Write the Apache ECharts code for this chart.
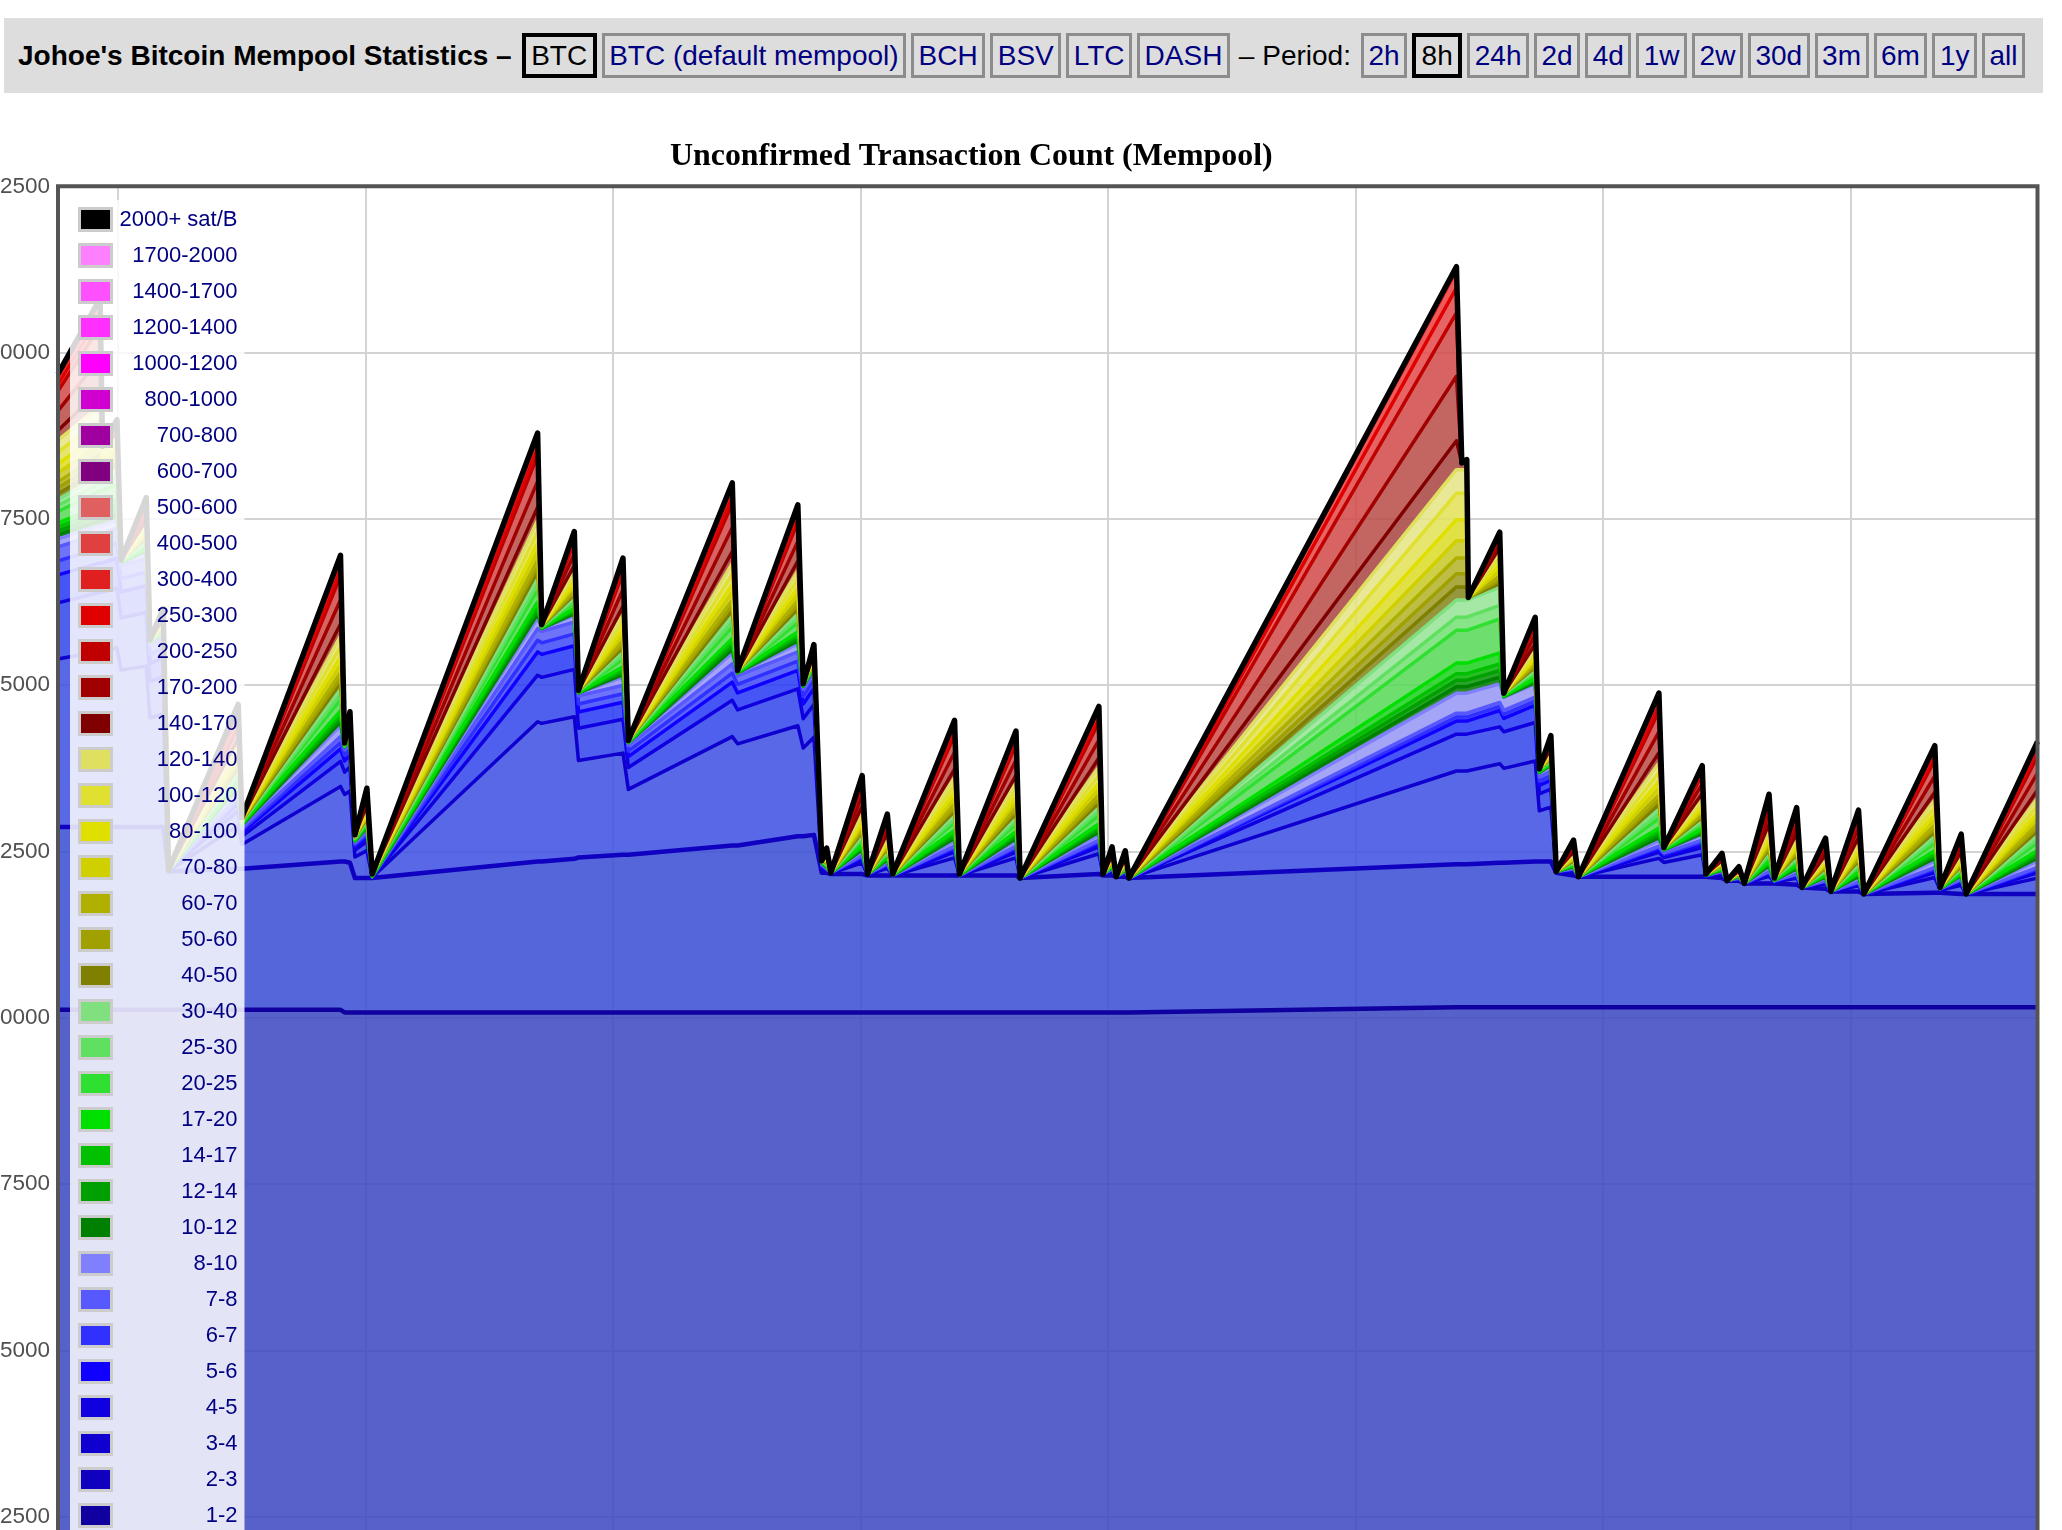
<!DOCTYPE html>
<html><head><meta charset="utf-8">
<script src="https://cdn.jsdelivr.net/npm/echarts/dist/echarts.min.js"></script>
<style>
html,body{margin:0;padding:0;background:#fff;overflow:hidden;width:2062px;height:1530px;}
#hdr{position:absolute;left:4px;top:18px;width:2039px;height:75px;background:#dddddd;display:flex;align-items:center;font-family:"Liberation Sans",Arial,sans-serif;font-size:28px;white-space:nowrap;}
#hdr .t{font-weight:bold;color:#000;margin-left:14px;margin-right:10px;}
#hdr .b{display:inline-block;box-sizing:content-box;height:39px;line-height:39px;border:3px solid #8c8c8c;padding:0 4.5px;color:#000080;margin-right:5px;}
#hdr .s{border:4px solid #000;height:37px;line-height:37px;padding:0 5.5px;color:#000;}
#hdr .p{margin:0 10px 0 4px;color:#000;}
#chart{position:absolute;left:-20px;top:0;width:2082px;height:1740px;}
</style></head>
<body>
<div id="hdr"><span class="t">Johoe's Bitcoin Mempool Statistics –</span><span class="b s">BTC</span><span class="b">BTC (default mempool)</span><span class="b">BCH</span><span class="b">BSV</span><span class="b">LTC</span><span class="b">DASH</span><span class="p">– Period:</span><span class="b">2h</span><span class="b s">8h</span><span class="b">24h</span><span class="b">2d</span><span class="b">4d</span><span class="b">1w</span><span class="b">2w</span><span class="b">30d</span><span class="b">3m</span><span class="b">6m</span><span class="b">1y</span><span class="b">all</span></div>
<div id="chart"></div>
<script>
// start of the 8h window (UTC) and sample times in minutes from start
const startTime = Date.UTC(2024, 0, 15, 12, 45, 24);
const windowMinutes = 480;
const minutes = [0,10.2,10.8,14.3,15.3,21.4,22.3,25.5,26.8,43.7,44.6,68.5,69.5,70.8,72.0,74.9,76.2,116.3,117.3,125.2,126.2,137.0,138.3,163.5,164.8,179.4,180.7,183.3,185.2,186.4,187.4,195.0,196.3,201.1,202.4,217.4,218.6,232.3,233.3,252.4,253.4,255.6,256.6,258.8,259.7,339.1,340.4,341.6,342.0,349.6,350.6,358.2,359.2,362.0,363.3,367.5,368.7,388.2,389.4,398.7,399.6,403.5,404.7,407.6,408.9,414.9,416.2,421.6,422.9,428.6,429.9,436.6,437.9,455.1,456.4,461.5,462.7,480.0];

const yTicks = [0,2500,5000,7500,10000,12500,15000,17500,20000,22500];

// transaction counts per fee level (sat/B), one value per sample time
const fee_1_2 = [10120,10120,10120,10120,10120,10120,10120,10120,10120,10120,10120,10120,
10080,10080,10080,10080,10080,10080,10080,10080,10080,10080,10080,
10080,10080,10080,10080,10080,10080,10080,10080,10080,10080,10080,
10080,10080,10080,10080,10080,10080,10080,10080,10080,10080,10080,
10160,10160,10160,10160,10160,10160,10160,10160,10160,10160,10160,
10160,10160,10160,10160,10160,10160,10160,10160,10160,10160,10160,
10160,10160,10160,10160,10160,10160,10160,10160,10160,10160,10160];
const fee_2_3 = [2750,2750,2750,2750,2750,2750,2750,2750,2080,2120,2120,2230,
2270,2250,2020,2020,2020,2270,2270,2310,2330,2370,2370,
2510,2510,2650,2650,2670,2100,2100,2080,2080,2060,2060,
2060,2060,2060,2060,2020,2080,2060,2060,2040,2040,2020,
2150,2150,2150,2150,2170,2170,2190,2190,2190,2020,1980,
1960,1960,1960,1960,1960,1940,1900,1900,1860,1860,1860,
1840,1800,1780,1740,1740,1700,1720,1720,1700,1700,1700];
const fee_3_4 = [2525,2645,2645,2693,2357,2417,1637,1697,12,653,365,1128,
1008,1080,317,413,12,2100,2076,2136,1457,1529,984,
1637,1529,1661,1325,1469,72,36,12,168,12,108,
0,264,0,264,0,306,12,60,0,48,0,
1400,1400,1400,1400,1490,1420,1510,762,816,12,60,
0,276,216,330,12,60,0,24,0,108,24,
96,0,72,0,84,0,228,36,132,0,240];
const fee_4_5 = [842,882,882,898,786,806,546,566,4,218,122,376,
336,360,106,138,4,700,692,712,486,510,328,
546,510,554,442,490,24,12,4,56,4,36,
0,88,0,88,0,102,4,20,0,16,0,
554,554,554,554,554,550,580,254,272,4,20,
0,92,72,110,4,20,0,8,0,36,8,
32,0,24,0,28,0,76,12,44,0,80];
const fee_5_6 = [421,441,441,449,393,403,273,283,2,109,61,188,
168,180,53,69,2,350,346,356,243,255,164,
273,255,277,221,245,12,6,2,28,2,18,
0,44,0,44,0,51,2,10,0,8,0,
197,197,197,197,246,200,260,127,136,2,10,
0,46,36,55,2,10,0,4,0,18,4,
16,0,12,0,14,0,38,6,22,0,40];
const fee_6_7 = [211,221,221,225,197,202,137,142,1,55,31,94,
84,90,27,35,1,175,173,178,122,128,82,
137,128,139,111,123,6,3,1,14,1,9,
0,22,0,22,0,26,1,5,0,4,0,
60,60,60,60,60,60,60,64,68,1,5,
0,23,18,28,1,5,0,2,0,9,2,
8,0,6,0,7,0,19,3,11,0,20];
const fee_7_8 = [211,221,221,225,197,202,137,142,1,55,31,94,
84,90,27,35,1,175,173,178,122,128,82,
137,128,139,111,123,6,3,1,14,1,9,
0,22,0,22,0,25,1,5,0,4,0,
59,59,59,59,60,60,60,63,68,1,5,
0,23,18,27,1,5,0,2,0,9,2,
8,0,6,0,7,0,19,3,11,0,20];
const fee_8_10 = [120,120,120,120,40,100,40,80,0,120,40,160,
40,60,20,60,0,160,40,100,40,120,40,
160,40,120,40,60,20,20,0,60,0,40,
0,80,0,80,0,80,0,20,0,20,0,
300,300,300,300,280,200,200,60,80,0,20,
0,80,40,80,0,20,0,20,0,60,0,
60,0,40,0,60,0,100,0,40,0,100];
const fee_10_12 = [59,75,75,78,4,18,4,8,0,27,7,56,
4,9,6,13,4,61,4,27,4,39,4,
56,4,46,4,8,4,6,0,25,0,16,
2,39,2,36,0,42,0,7,0,6,0,
98,98,98,98,100,6,22,6,10,0,9,
0,48,4,23,2,6,0,4,0,24,4,
20,0,13,0,23,0,38,2,14,0,39];
const fee_12_14 = [59,75,75,78,4,18,4,8,0,27,7,56,
4,9,6,13,4,61,4,27,4,39,4,
56,4,46,4,8,4,6,0,25,0,16,
2,39,2,36,0,42,0,7,0,6,0,
98,98,98,98,100,6,22,6,10,0,9,
0,48,4,23,2,6,0,4,0,24,4,
20,0,13,0,23,0,38,2,14,0,39];
const fee_14_17 = [59,75,75,78,4,18,4,8,0,27,7,56,
4,9,6,13,4,61,4,27,4,39,4,
56,4,46,4,8,4,6,0,25,0,16,
2,39,2,36,0,42,0,7,0,6,0,
98,98,98,98,100,6,22,6,10,0,9,
0,48,4,23,2,6,0,4,0,24,4,
20,0,13,0,23,0,38,2,14,0,39];
const fee_17_20 = [59,75,75,78,4,18,4,8,0,27,7,56,
4,9,6,13,4,61,4,27,4,39,4,
56,4,46,4,8,4,6,0,25,0,16,
2,39,2,36,0,42,0,7,0,6,0,
158,158,158,158,165,6,22,6,10,0,9,
0,48,4,23,2,6,0,4,0,24,4,
20,0,13,0,23,0,38,2,14,0,39];
const fee_20_25 = [176,224,224,234,12,54,12,24,0,80,21,168,
12,26,18,38,12,182,12,80,12,116,12,
168,12,138,12,24,12,18,0,74,0,48,
6,116,6,108,0,126,0,21,0,18,0,
493,493,493,493,510,18,66,18,30,0,26,
0,144,12,68,6,18,0,12,0,72,12,
60,0,38,0,68,0,114,6,42,0,116];
const fee_25_30 = [89,113,113,117,6,27,6,12,0,41,11,84,
6,14,9,20,6,92,6,41,6,59,6,
84,6,69,6,12,6,9,0,38,0,24,
3,59,3,54,0,63,0,11,0,9,0,
198,198,198,198,205,9,33,9,15,0,14,
0,72,6,35,3,9,0,6,0,36,6,
30,0,20,0,35,0,57,3,21,0,59];
const fee_30_40 = [89,113,113,117,6,27,6,12,0,41,10,84,
6,14,9,20,6,92,6,41,6,59,6,
84,6,69,6,12,6,9,0,38,0,24,
3,59,3,54,0,63,0,10,0,9,0,
257,257,257,257,270,9,33,9,15,0,14,
0,72,6,35,3,9,0,6,0,36,6,
30,0,20,0,35,0,57,3,21,0,59];
const fee_40_50 = [89,105,44,50,0,25,0,11,0,39,4,79,
2,12,3,18,0,86,2,39,0,55,0,
79,0,64,0,10,0,9,0,35,0,21,
0,56,0,51,0,60,0,9,0,9,0,
198,198,198,40,56,0,31,0,13,0,12,
0,69,0,32,0,7,0,4,0,34,0,
29,0,18,0,31,0,53,0,19,0,55];
const fee_50_60 = [89,105,44,50,0,25,0,11,0,39,4,79,
2,12,3,18,0,86,2,39,0,55,0,
79,0,64,0,10,0,9,0,35,0,21,
0,56,0,51,0,60,0,9,0,9,0,
198,198,198,0,56,0,31,0,13,0,12,
0,69,0,32,0,7,0,4,0,34,0,
29,0,18,0,31,0,53,0,19,0,55];
const fee_60_70 = [89,105,44,50,0,25,0,11,0,39,4,79,
2,12,3,18,0,86,2,39,0,55,0,
79,0,64,0,10,0,9,0,35,0,21,
0,56,0,51,0,60,0,9,0,9,0,
238,238,238,0,56,0,31,0,13,0,12,
0,69,0,32,0,7,0,4,0,34,0,
29,0,18,0,31,0,53,0,19,0,55];
const fee_70_80 = [134,158,66,75,0,38,0,17,0,59,6,119,
3,18,5,27,0,129,3,59,0,83,0,
119,0,96,0,15,0,14,0,53,0,32,
0,84,0,77,0,90,0,14,0,14,0,
257,257,257,0,84,0,47,0,20,0,18,
0,104,0,48,0,11,0,6,0,51,0,
44,0,27,0,47,0,80,0,29,0,83];
const fee_80_100 = [134,158,66,75,0,38,0,17,0,59,6,119,
3,18,4,27,0,129,3,59,0,83,0,
119,0,96,0,15,0,14,0,53,0,32,
0,84,0,77,0,90,0,14,0,14,0,
316,316,316,0,84,0,47,0,20,0,18,
0,104,0,48,0,11,0,6,0,51,0,
44,0,27,0,47,0,80,0,29,0,83];
const fee_100_120 = [177,209,88,100,0,49,0,21,0,77,8,157,
4,24,6,36,0,172,4,77,0,109,0,
157,0,128,0,20,0,17,0,69,0,41,
0,112,0,101,0,120,0,17,0,17,0,
397,397,397,0,112,0,61,0,25,0,24,
0,137,0,64,0,13,0,8,0,68,0,
57,0,36,0,61,0,105,0,37,0,109];
const fee_120_140 = [178,210,88,100,0,50,0,22,0,78,8,158,
4,24,6,36,0,172,4,78,0,110,0,
158,0,128,0,20,0,18,0,70,0,42,
0,112,0,102,0,120,0,18,0,18,0,
356,356,356,0,112,0,62,0,26,0,24,
0,138,0,64,0,14,0,8,0,68,0,
58,0,36,0,62,0,106,0,38,0,110];
const fee_140_170 = [149,240,0,33,0,57,0,26,0,89,2,180,
0,29,2,42,0,195,0,89,0,126,0,
180,0,147,0,24,0,20,0,80,0,48,
0,128,0,116,0,135,0,21,0,20,0,
435,100,110,0,39,0,69,0,32,0,29,
0,156,0,72,0,17,0,9,0,77,0,
66,0,42,0,71,0,122,0,45,0,126];
const fee_170_200 = [296,480,0,66,0,114,0,51,0,176,3,360,
0,56,3,84,0,390,0,176,0,252,0,
360,0,294,0,48,0,38,0,158,0,96,
0,254,0,231,0,270,0,42,0,38,0,
969,0,20,0,78,0,138,0,63,0,56,
0,312,0,144,0,33,0,18,0,153,0,
132,0,84,0,141,0,243,0,90,0,252];
const fee_200_250 = [297,480,0,66,0,114,0,51,0,177,3,360,
0,57,3,84,0,390,0,177,0,252,0,
360,0,294,0,48,0,39,0,159,0,96,
0,255,0,231,0,270,0,42,0,39,0,
954,0,10,0,78,0,138,0,63,0,57,
0,312,0,144,0,33,0,18,0,153,0,
132,0,84,0,141,0,243,0,90,0,252];
const fee_250_300 = [99,160,0,22,0,38,0,17,0,59,1,120,
0,19,1,28,0,130,0,59,0,84,0,
120,0,98,0,16,0,13,0,53,0,32,
0,85,0,77,0,90,0,14,0,13,0,
375,0,0,0,26,0,46,0,21,0,19,
0,104,0,48,0,11,0,6,0,51,0,
44,0,28,0,47,0,81,0,30,0,84];
const fee_300_400 = [99,160,0,22,0,38,0,17,0,59,1,120,
0,19,1,28,0,130,0,59,0,84,0,
120,0,98,0,16,0,13,0,53,0,32,
0,85,0,77,0,90,0,14,0,13,0,
257,0,0,0,26,0,46,0,21,0,19,
0,104,0,48,0,11,0,6,0,51,0,
44,0,28,0,47,0,81,0,30,0,84];
const fee_400_500 = [30,48,0,7,0,11,0,5,0,18,0,36,
0,6,0,8,0,39,0,18,0,25,0,
36,0,29,0,5,0,4,0,16,0,10,
0,26,0,23,0,27,0,4,0,4,0,
40,0,0,0,8,0,14,0,6,0,6,
0,31,0,14,0,3,0,2,0,15,0,
13,0,8,0,14,0,24,0,9,0,25];
const fee_500_600 = [20,32,0,4,0,8,0,3,0,12,0,24,
0,4,0,6,0,26,0,12,0,17,0,
24,0,20,0,3,0,3,0,11,0,6,
0,17,0,15,0,18,0,3,0,3,0,
10,0,0,0,5,0,9,0,4,0,4,
0,21,0,10,0,2,0,1,0,10,0,
9,0,6,0,9,0,16,0,6,0,17];
const fee_600_700 = [3,3,0,3,0,3,0,3,0,3,0,3,
0,3,0,3,0,3,0,3,0,3,0,
3,0,3,0,3,0,3,0,3,0,3,
0,3,0,3,0,3,0,3,0,3,0,
3,0,3,0,3,0,3,0,3,0,3,
0,3,0,3,0,3,0,3,0,3,0,
3,0,3,0,3,0,3,0,3,0,3];
const fee_700_800 = [2,2,0,2,0,2,0,2,0,2,0,2,
0,2,0,2,0,2,0,2,0,2,0,
2,0,2,0,2,0,2,0,2,0,2,
0,2,0,2,0,2,0,2,0,2,0,
2,0,2,0,2,0,2,0,2,0,2,
0,2,0,2,0,2,0,2,0,2,0,
2,0,2,0,2,0,2,0,2,0,2];
const fee_800_1000 = [2,2,0,2,0,2,0,2,0,2,0,2,
0,2,0,2,0,2,0,2,0,2,0,
2,0,2,0,2,0,2,0,2,0,2,
0,2,0,2,0,2,0,2,0,2,0,
2,0,2,0,2,0,2,0,2,0,2,
0,2,0,2,0,2,0,2,0,2,0,
2,0,2,0,2,0,2,0,2,0,2];
const fee_1000_1200 = [1,1,0,1,0,1,0,1,0,1,0,1,
0,1,0,1,0,1,0,1,0,1,0,
1,0,1,0,1,0,1,0,1,0,1,
0,1,0,1,0,1,0,1,0,1,0,
1,0,1,0,1,0,1,0,1,0,1,
0,1,0,1,0,1,0,1,0,1,0,
1,0,1,0,1,0,1,0,1,0,1];
const fee_1200_1400 = [1,1,0,1,0,1,0,1,0,1,0,1,
0,1,0,1,0,1,0,1,0,1,0,
1,0,1,0,1,0,1,0,1,0,1,
0,1,0,1,0,1,0,1,0,1,0,
1,0,1,0,1,0,1,0,1,0,1,
0,1,0,1,0,1,0,1,0,1,0,
1,0,1,0,1,0,1,0,1,0,1];
const fee_1400_1700 = [0,0,0,0,0,0,0,0,0,0,0,0,
0,0,0,0,0,0,0,0,0,0,0,
0,0,0,0,0,0,0,0,0,0,0,
0,0,0,0,0,0,0,0,0,0,0,
0,0,0,0,0,0,0,0,0,0,0,
0,0,0,0,0,0,0,0,0,0,0,
0,0,0,0,0,0,0,0,0,0,0];
const fee_1700_2000 = [0,0,0,0,0,0,0,0,0,0,0,0,
0,0,0,0,0,0,0,0,0,0,0,
0,0,0,0,0,0,0,0,0,0,0,
0,0,0,0,0,0,0,0,0,0,0,
0,0,0,0,0,0,0,0,0,0,0,
0,0,0,0,0,0,0,0,0,0,0,
0,0,0,0,0,0,0,0,0,0,0];
const fee_2000_plus = [2,2,0,2,0,2,0,2,0,2,0,2,
0,2,0,2,0,2,0,2,0,2,0,
2,0,2,0,2,0,2,0,2,0,2,
0,2,0,2,0,2,0,2,0,2,0,
2,0,2,0,2,0,2,0,2,0,2,
0,2,0,2,0,2,0,2,0,2,0,
2,0,2,0,2,0,2,0,2,0,2];

// [legend name, values, line colour, fill colour, line width] bottom of stack first
const seriesTable = [
  ['1-2', fee_1_2, '#1000a0', '#3847bf', 4.5],
  ['2-3', fee_2_3, '#1000c0', '#364bd4', 4.5],
  ['3-4', fee_3_4, '#1000d0', '#3b4ee2', 3.5],
  ['4-5', fee_4_5, '#1000e0', '#3144eb', 3.5],
  ['5-6', fee_5_6, '#1000ff', '#2637f4', 3.5],
  ['6-7', fee_6_7, '#3030ff', '#3d49f7', 3.5],
  ['7-8', fee_7_8, '#5858ff', '#555bf9', 3.5],
  ['8-10', fee_8_10, '#8080ff', '#9595f7', 3.5],
  ['10-12', fee_10_12, '#008000', '#027802', 3.5],
  ['12-14', fee_12_14, '#00a000', '#029502', 3.5],
  ['14-17', fee_14_17, '#00c000', '#02b302', 3.5],
  ['17-20', fee_17_20, '#00e000', '#1ad01a', 3.5],
  ['20-25', fee_20_25, '#30e030', '#55d855', 3.5],
  ['25-30', fee_25_30, '#60e060', '#72e072', 3.5],
  ['30-40', fee_30_40, '#80e080', '#95e495', 3.5],
  ['40-50', fee_40_50, '#808000', '#84841a', 3.5],
  ['50-60', fee_50_60, '#a0a000', '#9b9b20', 3.5],
  ['60-70', fee_60_70, '#b0b000', '#b3b326', 3.5],
  ['70-80', fee_70_80, '#d0d000', '#c8c826', 3.5],
  ['80-100', fee_80_100, '#e0e000', '#dcdc26', 3.5],
  ['100-120', fee_100_120, '#e0e030', '#e2e255', 3.5],
  ['120-140', fee_120_140, '#e0e060', '#e4e484', 3.5],
  ['140-170', fee_140_170, '#800000', '#a74340', 3.5],
  ['170-200', fee_170_200, '#a00000', '#b94b47', 3.5],
  ['200-250', fee_200_250, '#c00000', '#d04947', 3.5],
  ['250-300', fee_250_300, '#e00000', '#e24949', 3.5],
  ['300-400', fee_300_400, '#e02020', '#eb3d3d', 3.5],
  ['400-500', fee_400_500, '#e04040', '#ed5f5f', 3.5],
  ['500-600', fee_500_600, '#e06060', '#ed6f6f', 3.5],
  ['600-700', fee_600_700, '#800080', '#800080', 3.5],
  ['700-800', fee_700_800, '#a000a0', '#a000a0', 3.5],
  ['800-1000', fee_800_1000, '#d000d0', '#d000d0', 3.5],
  ['1000-1200', fee_1000_1200, '#ff00ff', '#ff00ff', 3.5],
  ['1200-1400', fee_1200_1400, '#ff30ff', '#ff30ff', 3.5],
  ['1400-1700', fee_1400_1700, '#ff50ff', '#ff50ff', 3.5],
  ['1700-2000', fee_1700_2000, '#ff80ff', '#ff80ff', 3.5],
  ['2000+ sat/B', fee_2000_plus, '#000000', '#000000', 5.5]
];

const endTime = startTime + windowMinutes * 60000;
const series = seriesTable.map(([name, vals, lc, ac, lw]) => ({
  name: name,
  type: 'line',
  stack: 'mempool',
  data: minutes.map((m, i) => [startTime + m * 60000, vals[i]]),
  symbol: 'none',
  showSymbol: false,
  silent: true,
  color: lc,
  itemStyle: { color: lc },
  lineStyle: { color: lc, width: lw, join: 'round' },
  areaStyle: { color: ac, opacity: 0.85 },
  emphasis: { disabled: true },
  animation: false
}));

const chart = echarts.init(document.getElementById('chart'), null, { renderer: 'canvas' });
const option = {
  animation: false,
  useUTC: true,
  backgroundColor: 'transparent',
  title: {
    text: 'Unconfirmed Transaction Count (Mempool)',
    left: 690, top: 141, padding: 0,
    textStyle: { fontFamily: '"Liberation Serif", "Times New Roman", serif', fontWeight: 'bold', fontSize: 31.9, color: '#000' }
  },
  grid: { left: 78, right: 24.5, top: 186.3, bottom: 57, containLabel: false, outerBoundsMode: 'none', show: false },
  legend: {
    orient: 'vertical',
    left: 90, top: 200,
    padding: [7, 7, 7, 8],
    backgroundColor: 'rgba(255,255,255,0.84)',
    selectedMode: false,
    icon: 'rect',
    itemWidth: 32, itemHeight: 22, itemGap: 11,
    itemStyle: { borderColor: '#cccccc', borderWidth: 3 },
    data: seriesTable.map(r => r[0]).reverse(),
    formatter: name => '{n|' + name + '}',
    textStyle: {
      rich: { n: { width: 121, align: 'right', fontSize: 22, lineHeight: 22, color: '#000080', fontFamily: '"Liberation Sans", Arial, sans-serif' } }
    }
  },
  xAxis: [{
    type: 'time', min: startTime, max: endTime,
    minInterval: 3600000, maxInterval: 3600000,
    axisLine: { show: false }, axisTick: { show: false },
    axisLabel: { show: false },
    splitLine: { show: true, lineStyle: { color: '#d3d3d3', width: 2 } }
  }],
  yAxis: [{
    type: 'value', min: yTicks[0], max: yTicks[yTicks.length - 1], interval: yTicks[1] - yTicks[0],
    axisLine: { show: false }, axisTick: { show: false },
    axisLabel: { formatter: v => String(v), fontSize: 22.5, color: '#505050', margin: 8, padding: [13, 0, 0, 0], fontFamily: '"Liberation Sans", Arial, sans-serif' },
    splitLine: { show: true, lineStyle: { color: '#d3d3d3', width: 2 } }
  }],
  series: series
};
chart.setOption(option);

// plot frame drawn on top of the data, positioned through the chart's own scales
const p0 = chart.convertToPixel({ gridIndex: 0 }, [startTime, yTicks[yTicks.length - 1]]);
const p1 = chart.convertToPixel({ gridIndex: 0 }, [endTime, yTicks[0]]);
chart.setOption({
  graphic: [{
    type: 'rect', silent: true, z: 100,
    shape: { x: p0[0], y: p0[1], width: p1[0] - p0[0], height: p1[1] - p0[1] },
    style: { fill: 'none', stroke: '#545454', lineWidth: 4 }
  }]
});
</script>
</body></html>
